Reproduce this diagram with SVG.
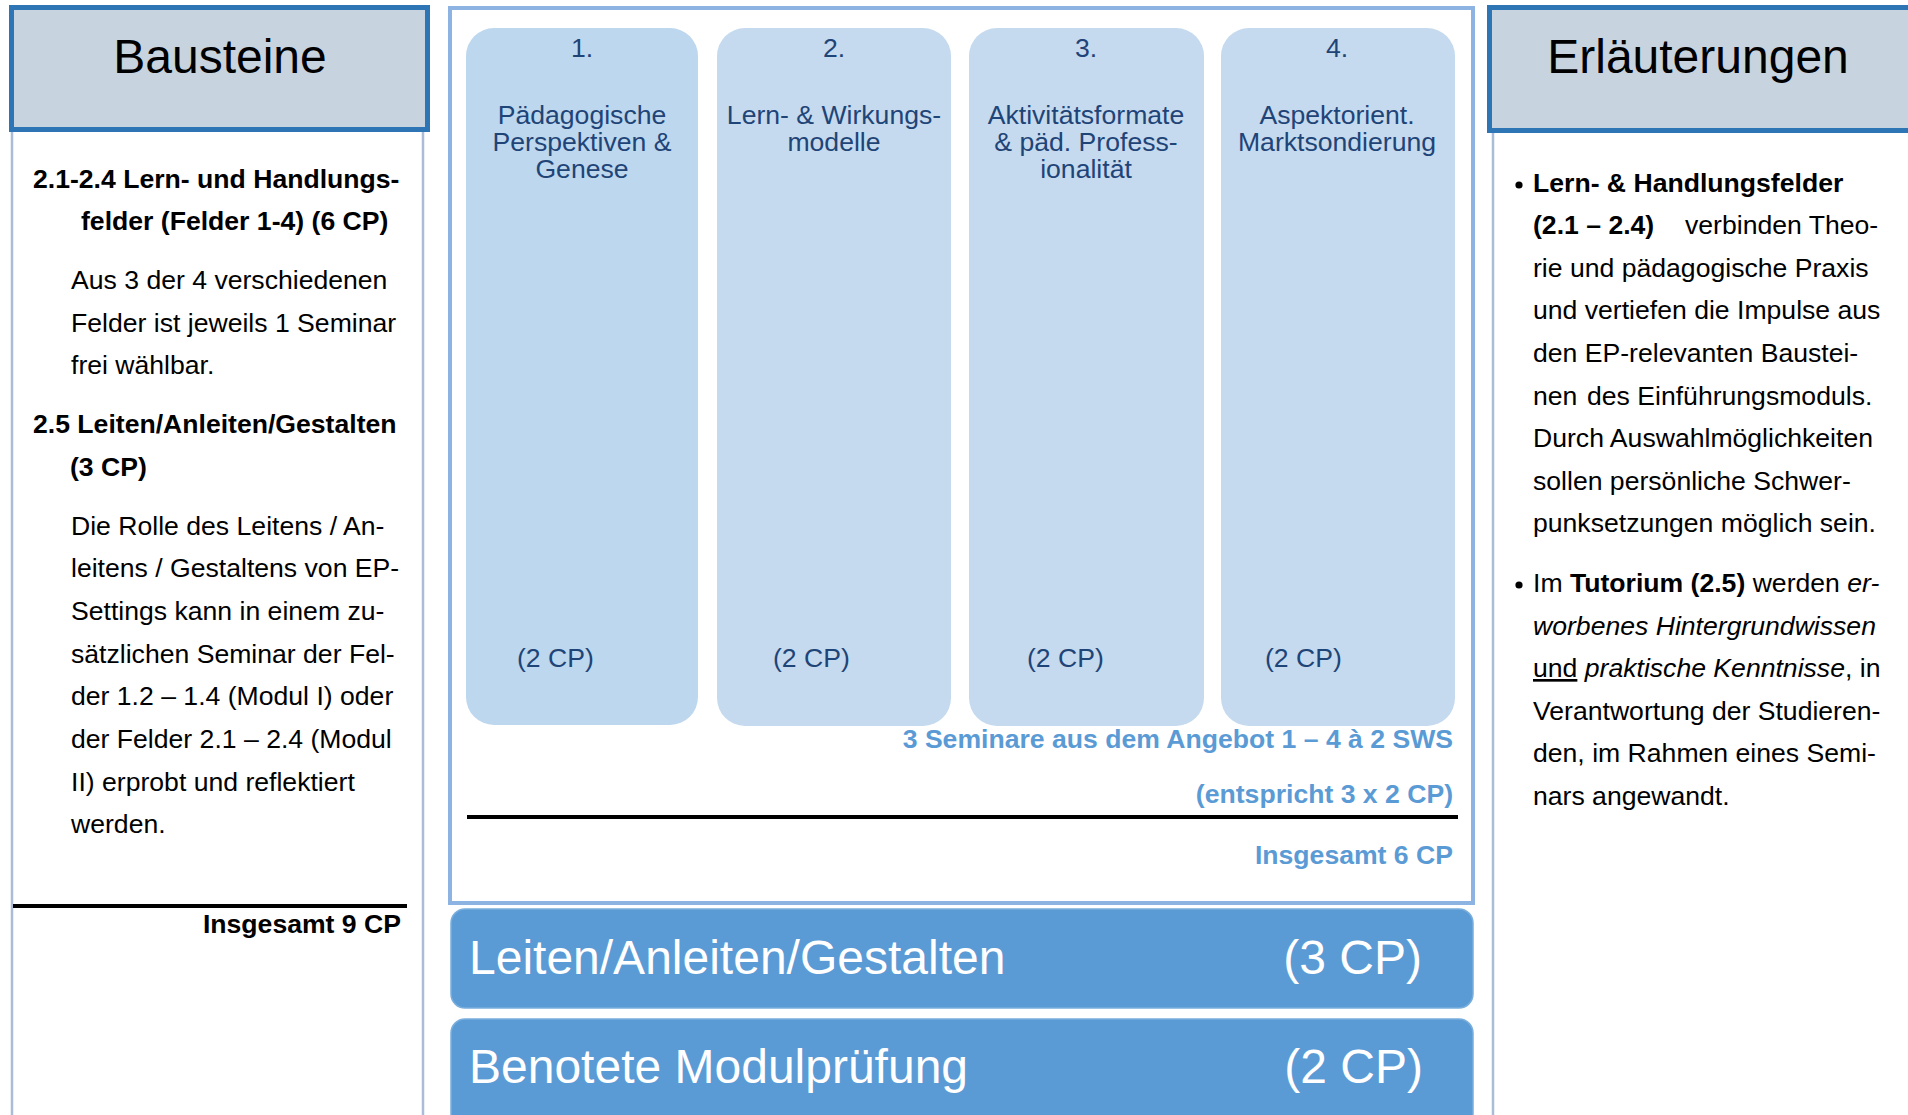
<svg xmlns="http://www.w3.org/2000/svg" width="1908" height="1115" viewBox="0 0 1908 1115">
<style>
text{font-family:"Liberation Sans",Arial,sans-serif}
.hdr{fill:#C7D3DF;stroke:#2E75B6;stroke-width:5}
.title{font-size:48px;fill:#000;text-anchor:middle}
.side{stroke:#AABCD8;stroke-width:2.5;fill:none}
.body{font-size:26.6px;fill:#000}
.b{font-weight:bold}
.i{font-style:italic}
.col1{fill:#BDD7EE}
.col{fill:#C5DAEE}
.ct{font-size:26.6px;fill:#1F4477;text-anchor:middle}
.cp{font-size:26.6px;fill:#1F4477}
.blue{font-size:26.6px;font-weight:bold;fill:#5B9BD5;text-anchor:end}
.bar{fill:#5B9BD5;stroke:#7AAEDD;stroke-width:1.5}
.bt{font-size:48px;fill:#fff}
</style>

<g id="bausteine">
  <line class="side" x1="12" y1="130" x2="12" y2="1115"/>
  <line class="side" x1="423" y1="130" x2="423" y2="1115"/>
  <rect class="hdr" x="11.5" y="7.5" width="416" height="122"/>
  <text class="title" x="220" y="73">Bausteine</text>
  <g class="body">
    <text class="b" x="33" y="188">2.1-2.4 Lern- und Handlungs-</text>
    <text class="b" x="81" y="230">felder (Felder 1-4) (6 CP)</text>
    <text x="71" y="289">Aus 3 der 4 verschiedenen</text>
    <text x="71" y="332">Felder ist jeweils 1 Seminar</text>
    <text x="71" y="374">frei wählbar.</text>
    <text class="b" x="33" y="433">2.5 Leiten/Anleiten/Gestalten</text>
    <text class="b" x="70" y="476">(3 CP)</text>
    <text x="71" y="535">Die Rolle des Leitens / An-</text>
    <text x="71" y="577">leitens / Gestaltens von EP-</text>
    <text x="71" y="620">Settings kann in einem zu-</text>
    <text x="71" y="663">sätzlichen Seminar der Fel-</text>
    <text x="71" y="705">der 1.2 – 1.4 (Modul I) oder</text>
    <text x="71" y="748">der Felder 2.1 – 2.4 (Modul</text>
    <text x="71" y="791">II) erprobt und reflektiert</text>
    <text x="71" y="833">werden.</text>
  </g>
  <line x1="13" y1="906" x2="407" y2="906" stroke="#000" stroke-width="4"/>
  <text class="body b" x="401" y="933" text-anchor="end">Insgesamt 9 CP</text>
</g>

<g id="angebot">
  <rect x="450" y="8" width="1023" height="895" fill="#fff" stroke="#8DB3E2" stroke-width="4"/>
  <g id="feld1">
    <rect class="col1" x="466" y="28" width="232" height="697" rx="28"/>
    <text class="ct" x="582" y="57">1.</text>
    <text class="ct" x="582" y="124">Pädagogische</text>
    <text class="ct" x="582" y="151">Perspektiven &amp;</text>
    <text class="ct" x="582" y="178">Genese</text>
    <text class="cp" x="517" y="667">(2 CP)</text>
  </g>
  <g id="feld2">
    <rect class="col" x="717" y="28" width="234" height="698" rx="28"/>
    <text class="ct" x="834" y="57">2.</text>
    <text class="ct" x="834" y="124">Lern- &amp; Wirkungs-</text>
    <text class="ct" x="834" y="151">modelle</text>
    <text class="cp" x="773" y="667">(2 CP)</text>
  </g>
  <g id="feld3">
    <rect class="col" x="969" y="28" width="235" height="698" rx="28"/>
    <text class="ct" x="1086" y="57">3.</text>
    <text class="ct" x="1086" y="124">Aktivitätsformate</text>
    <text class="ct" x="1086" y="151">&amp; päd. Profess-</text>
    <text class="ct" x="1086" y="178">ionalität</text>
    <text class="cp" x="1027" y="667">(2 CP)</text>
  </g>
  <g id="feld4">
    <rect class="col" x="1221" y="28" width="234" height="698" rx="28"/>
    <text class="ct" x="1337" y="57">4.</text>
    <text class="ct" x="1337" y="124">Aspektorient.</text>
    <text class="ct" x="1337" y="151">Marktsondierung</text>
    <text class="cp" x="1265" y="667">(2 CP)</text>
  </g>
  <text class="blue" x="1453" y="748">3 Seminare aus dem Angebot 1 – 4 à 2 SWS</text>
  <text class="blue" x="1453" y="803">(entspricht 3 x 2 CP)</text>
  <line x1="467" y1="817" x2="1458" y2="817" stroke="#000" stroke-width="4"/>
  <text class="blue" x="1453" y="864">Insgesamt 6 CP</text>
</g>

<g id="leiten">
  <rect class="bar" x="451" y="909" width="1022" height="99" rx="14"/>
  <text class="bt" x="469" y="974">Leiten/Anleiten/Gestalten</text>
  <text class="bt" x="1422" y="974" text-anchor="end">(3 CP)</text>
</g>
<g id="pruefung">
  <rect class="bar" x="451" y="1019" width="1022" height="120" rx="14"/>
  <text class="bt" x="469" y="1083">Benotete Modulprüfung</text>
  <text class="bt" x="1423" y="1083" text-anchor="end">(2 CP)</text>
</g>

<g id="erlaeuterungen">
  <line class="side" x1="1493" y1="130" x2="1493" y2="1115"/>
  <rect class="hdr" x="1489.5" y="7.5" width="430" height="123"/>
  <text class="title" x="1698" y="73">Erläuterungen</text>
  <g class="body">
    <circle cx="1519" cy="185" r="3.6" fill="#000"/>
    <text class="b" x="1533" y="192">Lern- &amp; Handlungsfelder</text>
    <text x="1533" y="234"><tspan class="b">(2.1 – 2.4)</tspan><tspan x="1685">verbinden Theo-</tspan></text>
    <text x="1533" y="277">rie und pädagogische Praxis</text>
    <text x="1533" y="319">und vertiefen die Impulse aus</text>
    <text x="1533" y="362">den EP-relevanten Baustei-</text>
    <text x="1533" y="405">nen<tspan x="1587">des Einführungsmoduls.</tspan></text>
    <text x="1533" y="447">Durch Auswahlmöglichkeiten</text>
    <text x="1533" y="490">sollen persönliche Schwer-</text>
    <text x="1533" y="532">punksetzungen möglich sein.</text>
    <circle cx="1519" cy="585" r="3.6" fill="#000"/>
    <text x="1533" y="592">Im <tspan class="b">Tutorium (2.5)</tspan> werden <tspan class="i">er-</tspan></text>
    <text class="i" x="1533" y="635">worbenes Hintergrundwissen</text>
    <text x="1533" y="677"><tspan text-decoration="underline">und</tspan> <tspan class="i">praktische Kenntnisse</tspan>, in</text>
    <text x="1533" y="720">Verantwortung der Studieren-</text>
    <text x="1533" y="762">den, im Rahmen eines Semi-</text>
    <text x="1533" y="805">nars angewandt.</text>
  </g>
</g>
</svg>
